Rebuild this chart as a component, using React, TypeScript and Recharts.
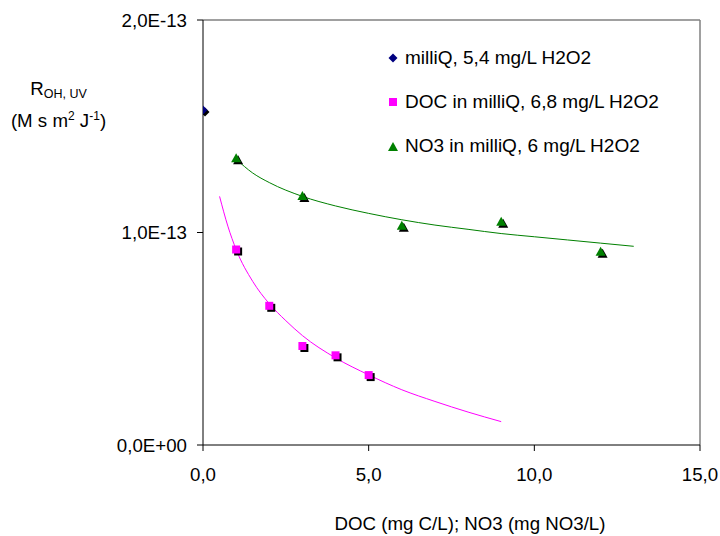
import React from 'react';
import { ComposedChart, Scatter, Line, XAxis, YAxis, Legend, ReferenceLine } from 'recharts';

// values in units of 1E-13
const MILLIQ_X = [0];
const MILLIQ_Y = [1.576];

const DOC_X = [1, 2, 3, 4, 5];
const DOC_Y = [0.92, 0.655, 0.466, 0.422, 0.329];

const NO3_X = [1, 3, 6, 9, 12];
const NO3_Y = [1.349, 1.172, 1.032, 1.051, 0.91];

// trend lines
const DOC_FIT_X = [0.5, 0.75, 1, 1.5, 2, 2.5, 3, 4, 5, 6, 7, 8, 9];
const DOC_FIT_Y = [1.17, 1.03, 0.92, 0.77, 0.665, 0.585, 0.515, 0.41, 0.33, 0.26, 0.205, 0.155, 0.11];
const NO3_FIT_X = [1, 1.5, 2, 3, 4, 5, 6, 7, 8, 9, 10, 11, 12, 13];
const NO3_FIT_Y = [1.345, 1.28, 1.235, 1.17, 1.125, 1.09, 1.06, 1.035, 1.015, 0.995, 0.98, 0.965, 0.95, 0.935];

const X_TICKS = [0, 5, 10, 15];
const Y_TICKS = [0, 1, 2];
const LEGEND_LABELS = ['milliQ, 5,4 mg/L H2O2', 'DOC in milliQ, 6,8 mg/L H2O2', 'NO3 in milliQ, 6 mg/L H2O2'];
const COLORS = ['#000080', '#FF00FF', '#008000'];

const FONT = '"Liberation Sans", Arial, sans-serif';

const toPoints = (xs: number[], ys: number[]) => xs.map((x, i) => ({ x, y: ys[i] }));

const fmtX = (v: number) => v.toFixed(1).replace('.', ',');
const fmtY = (v: number) => (v === 0 ? '0,0E+00' : `${v.toFixed(1).replace('.', ',')}E-13`);

function markerPath(kind: number, cx: number, cy: number) {
  if (kind === 0) return `M${cx},${cy - 4.5}L${cx + 4.5},${cy}L${cx},${cy + 4.5}L${cx - 4.5},${cy}Z`;
  if (kind === 1) return `M${cx - 4},${cy - 4}h8v8h-8Z`;
  return `M${cx},${cy - 5}L${cx + 5},${cy + 4}L${cx - 5},${cy + 4}Z`;
}

const makeShape = (kind: number) => (props: any) => {
  const { cx, cy } = props;
  return (
    <g>
      <path d={markerPath(kind, cx + 2, cy + 2)} fill="#000" />
      <path d={markerPath(kind, cx, cy)} fill={COLORS[kind]} />
    </g>
  );
};

function LegendBox() {
  return (
    <div style={{ fontFamily: FONT, fontSize: 19, color: '#000' }}>
      {LEGEND_LABELS.map((label, i) => (
        <div key={label} style={{ height: 44, display: 'flex', alignItems: 'center' }}>
          <svg width={12} height={12} style={{ marginRight: 6 }}>
            <path d={markerPath(i, 6, 6)} fill={COLORS[i]} transform={i === 2 ? 'translate(0,1) scale(1)' : undefined} />
          </svg>
          <span>{label}</span>
        </div>
      ))}
    </div>
  );
}

export default function App() {
  return (
    <div style={{ position: 'absolute', left: 0, top: 0, width: 720, height: 536, background: '#fff', fontFamily: FONT }}>
      <ComposedChart width={720} height={536} margin={{ top: 20, right: 20, bottom: 0, left: 0 }}>
        <XAxis
          type="number"
          dataKey="x"
          domain={[0, 15]}
          ticks={X_TICKS}
          tickFormatter={fmtX}
          height={91}
          tickSize={6}
          tickMargin={17}
          stroke="#000"
          tick={{ fill: '#000', fontSize: 18.7, fontFamily: FONT }}
          allowDataOverflow
        />
        <YAxis
          type="number"
          dataKey="y"
          domain={[0, 2]}
          ticks={Y_TICKS}
          tickFormatter={fmtY}
          width={203}
          tickSize={6}
          tickMargin={10}
          stroke="#000"
          tick={{ fill: '#000', fontSize: 18.7, fontFamily: FONT }}
          allowDataOverflow
        />
        <ReferenceLine y={2} stroke="#808080" strokeWidth={1.5} />
        <ReferenceLine x={15} stroke="#808080" strokeWidth={1.5} />
        <Line
          data={toPoints(DOC_FIT_X, DOC_FIT_Y)}
          dataKey="y"
          type="monotone"
          stroke="#FF00FF"
          strokeWidth={1}
          dot={false}
          activeDot={false}
          isAnimationActive={false}
          legendType="none"
        />
        <Line
          data={toPoints(NO3_FIT_X, NO3_FIT_Y)}
          dataKey="y"
          type="monotone"
          stroke="#008000"
          strokeWidth={1}
          dot={false}
          activeDot={false}
          isAnimationActive={false}
          legendType="none"
        />
        <Scatter name={LEGEND_LABELS[0]} data={toPoints(MILLIQ_X, MILLIQ_Y)} dataKey="y" shape={makeShape(0)} isAnimationActive={false} />
        <Scatter name={LEGEND_LABELS[1]} data={toPoints(DOC_X, DOC_Y)} dataKey="y" shape={makeShape(1)} isAnimationActive={false} />
        <Scatter name={LEGEND_LABELS[2]} data={toPoints(NO3_X, NO3_Y)} dataKey="y" shape={makeShape(2)} isAnimationActive={false} />
        <Legend
          layout="vertical"
          align="center"
          verticalAlign="middle"
          content={() => <LegendBox />}
          wrapperStyle={{ left: 387, top: 36, width: 320, height: 132 }}
        />
      </ComposedChart>
      <svg width={200} height={140} style={{ position: 'absolute', left: 0, top: 0 }}>
        <text x={58.5} y={95} textAnchor="middle" fontSize={18.7} fontFamily={FONT} fill="#000">
          R<tspan fontSize={12.5} dy={3}>OH, UV</tspan>
        </text>
        <text x={58.5} y={127} textAnchor="middle" fontSize={18.7} fontFamily={FONT} fill="#000">
          (M s m<tspan fontSize={12} dy={-7}>2</tspan>
          <tspan dy={7}> J</tspan>
          <tspan fontSize={12} dy={-7}>-1</tspan>
          <tspan dy={7}>)</tspan>
        </text>
      </svg>
      <div
        style={{
          position: 'absolute',
          left: 0,
          width: 940,
          top: 513,
          textAlign: 'center',
          fontSize: 18.7,
          lineHeight: '22px',
          color: '#000',
        }}
      >
        DOC (mg C/L); NO3 (mg NO3/L)
      </div>
    </div>
  );
}
